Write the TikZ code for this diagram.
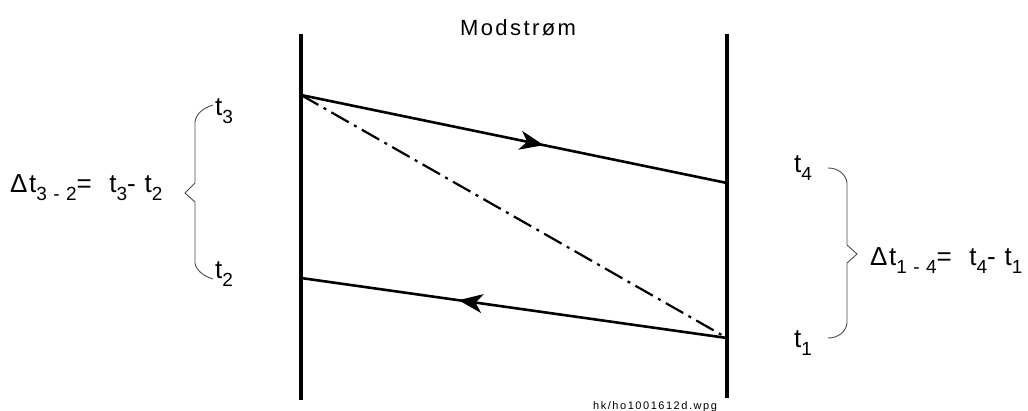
\documentclass[tikz,border=0pt]{standalone}
\usepackage{fontspec}
\setmainfont{Liberation Sans}[LetterSpace=6]
\newfontfamily\markfont{Liberation Sans}[LetterSpace=14]
\newfontfamily\titlefont{Liberation Sans}[LetterSpace=11]
\usetikzlibrary{arrows.meta,decorations.markings}
\newcommand\lowsub[1]{\raisebox{-0.33em}{\fontsize{19}{19}\selectfont #1}}
\begin{document}
\begin{tikzpicture}[x=1pt,y=-1pt,
  wall/.style={line width=4pt},
  signal/.style={line width=2.6pt},
  diag/.style={line width=2.2pt,dash pattern=on 20pt off 6pt on 3pt off 6pt},
  bracepath/.style={line width=0.9pt,black!70,line join=miter},
  lbl/.style={inner sep=0pt,font=\fontsize{26}{26}\selectfont},
  midarrow/.style={postaction={decorate},decoration={markings,
     mark=at position #1 with {\arrow{Stealth[length=24pt,width=19pt,inset=7pt]}}}}]
\useasboundingbox (0,0) rectangle (1028,410);
% walls
\coordinate (LT) at (301,34);
\coordinate (LB) at (301,400);
\coordinate (RT) at (727,34);
\coordinate (RB) at (727,398);
\draw[wall] (LT) -- (LB);
\draw[wall] (RT) -- (RB);
% event points
\coordinate (A) at (301,95);
\coordinate (B) at (727,183);
\coordinate (C) at (727,338);
\coordinate (D) at (301,278);
\draw[signal,midarrow=0.57] (A) -- (B);
\draw[signal,midarrow=0.63] (C) -- (D);
\draw[diag] (A) -- (C);
% title
\node[inner sep=0pt,anchor=base,font=\titlefont\fontsize{22}{22}\selectfont] (title) at (518,35) {Modstrøm};
% left brace
\draw[bracepath] (213,105) .. controls (203,108) and (196,114) .. (195,122)
  -- (195,183) -- (185,193) -- (195,202) -- (195,263)
  .. controls (196,270) and (203,276) .. (213,279);
\node[lbl,anchor=base west] (t3) at (215,115) {t\lowsub{3}};
\node[lbl,anchor=base west] (t2) at (215,278) {t\lowsub{2}};
\node[lbl,anchor=base west] (dl) at (10,192) {Δt\lowsub{3 - 2}=\ \ t\lowsub{3}- t\lowsub{2}};
% right brace
\draw[bracepath] (828,168) .. controls (838,168) and (846,174) .. (847,183)
  -- (847,245) -- (857,254) -- (847,263) -- (847,323)
  .. controls (846,332) and (838,338) .. (828,338);
\node[lbl,anchor=base west] (t4) at (794,172) {t\lowsub{4}};
\node[lbl,anchor=base west] (t1) at (794,347) {t\lowsub{1}};
\node[lbl,anchor=base west] (dr) at (870,265) {Δt\lowsub{1 - 4}=\ \ t\lowsub{4}- t\lowsub{1}};
% file mark
\node[inner sep=0pt,anchor=base west,font=\markfont\fontsize{11}{11}\selectfont] (mark) at (593,409) {hk/ho1001612d.wpg};
\end{tikzpicture}
\end{document}
